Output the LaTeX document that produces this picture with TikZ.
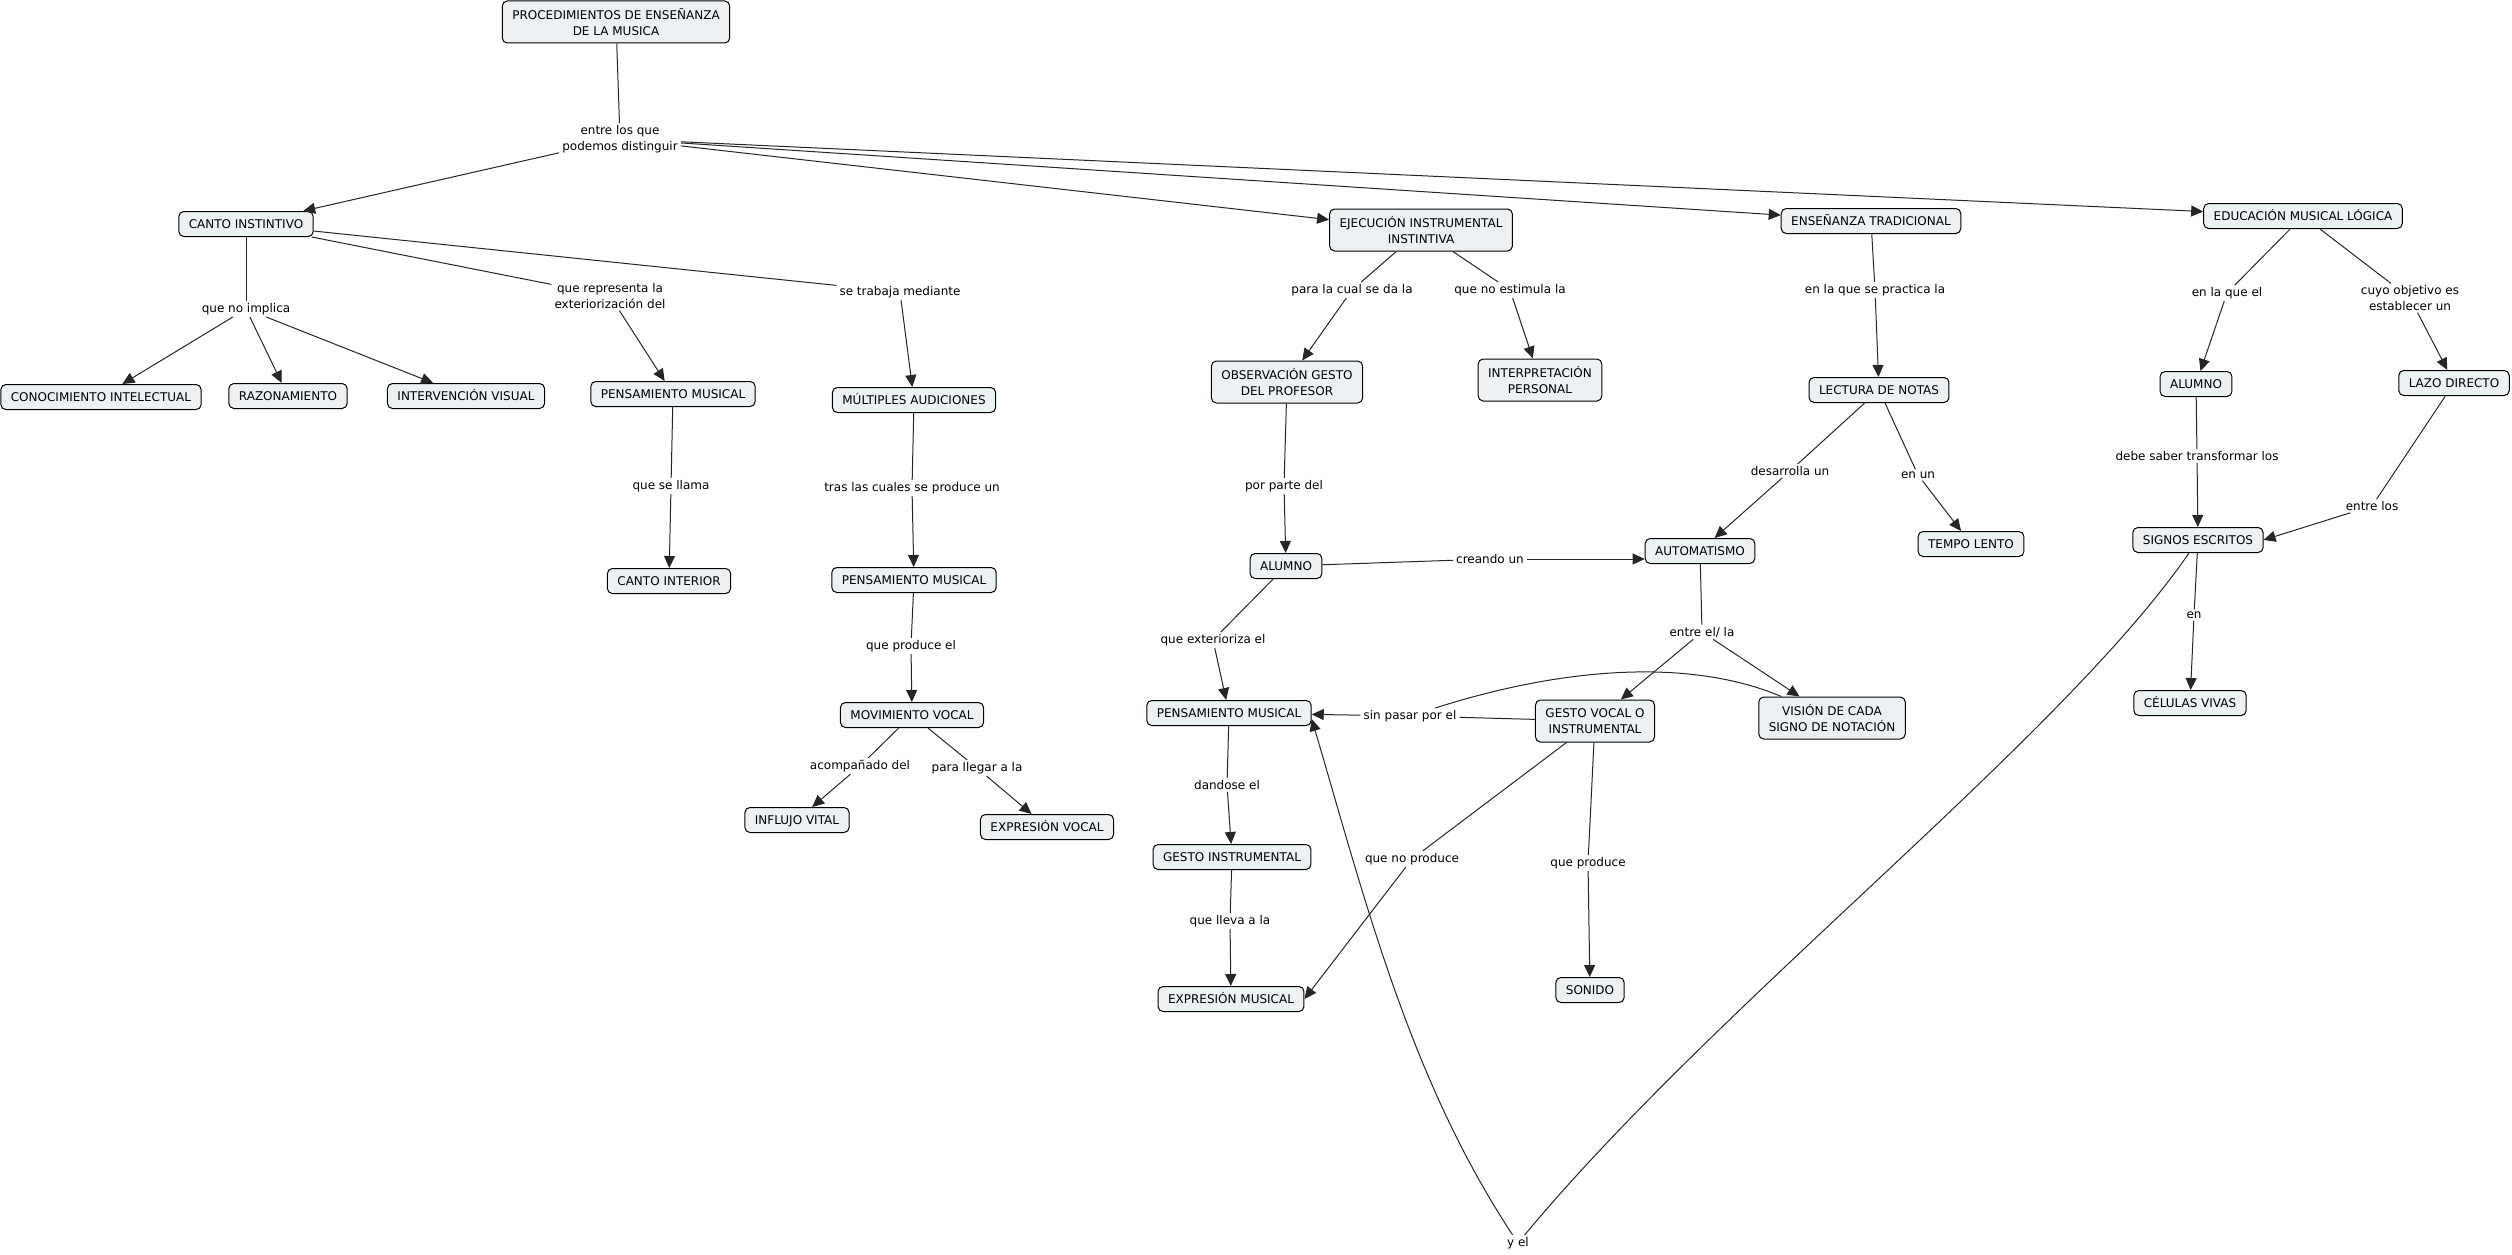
\documentclass[tikz,border=0pt]{standalone}
\usepackage{fontspec}
\setmainfont{DejaVu Sans}
\usetikzlibrary{arrows.meta}
\definecolor{nodefill}{RGB}{236,242,244}
\begin{document}
\begin{tikzpicture}[x=1pt,y=-1pt,
  every node/.style={font=\fontsize{12}{15.5}\selectfont},
  concept/.style={draw=black, line width=1pt, fill=nodefill, rounded corners=5pt, inner xsep=10pt, inner ysep=4pt, align=center},
  c1/.style={concept, minimum height=25pt, text height=8.8pt, text depth=0pt},
  c2/.style={concept, minimum height=42pt},
  lbl/.style={fill=white, inner xsep=3pt, inner ysep=2pt, align=center},
  conn/.style={draw=black!85, line width=1pt},
  arr/.style={conn, -{Triangle[length=12pt,width=11pt]}},
]
\useasboundingbox (0,0) rectangle (2512,1255);

% ---- concepts ----
\node[c2] (proc) at (616,22) {PROCEDIMIENTOS DE ENSEÑANZA\\DE LA MUSICA};
\node[c1] (canto) at (246,224) {CANTO INSTINTIVO};
\node[c1] (conoc) at (101,397) {CONOCIMIENTO INTELECTUAL};
\node[c1] (razon) at (288,396) {RAZONAMIENTO};
\node[c1] (interv) at (466,396) {INTERVENCIÓN VISUAL};
\node[c1] (pm1) at (673,394) {PENSAMIENTO MUSICAL};
\node[c1] (cint) at (669,581) {CANTO INTERIOR};
\node[c1] (mult) at (914,400) {MÚLTIPLES AUDICIONES};
\node[c1] (pm2) at (914,580) {PENSAMIENTO MUSICAL};
\node[c1] (mov) at (912,715) {MOVIMIENTO VOCAL};
\node[c1] (influ) at (797,820) {INFLUJO VITAL};
\node[c1] (exvoc) at (1047,827) {EXPRESIÓN VOCAL};
\node[c2] (ejec) at (1421,230) {EJECUCIÓN INSTRUMENTAL\\INSTINTIVA};
\node[c2] (obs) at (1287,382) {OBSERVACIÓN GESTO\\DEL PROFESOR};
\node[c2] (interp) at (1540,380) {INTERPRETACIÓN\\PERSONAL};
\node[c1] (alu1) at (1286,566) {ALUMNO};
\node[c1] (auto) at (1700,551) {AUTOMATISMO};
\node[c1] (pm3) at (1229,713) {PENSAMIENTO MUSICAL};
\node[c2] (gesto) at (1595,721) {GESTO VOCAL O\\INSTRUMENTAL};
\node[c2] (vision) at (1832,718) {VISIÓN DE CADA\\SIGNO DE NOTACIÓN};
\node[c1] (gins) at (1232,857) {GESTO INSTRUMENTAL};
\node[c1] (exmus) at (1231,999) {EXPRESIÓN MUSICAL};
\node[c1] (sonido) at (1590,990) {SONIDO};
\node[c1] (ensen) at (1871,221) {ENSEÑANZA TRADICIONAL};
\node[c1] (lect) at (1879,390) {LECTURA DE NOTAS};
\node[c1] (tempo) at (1971,544) {TEMPO LENTO};
\node[c1] (edu) at (2303,216) {EDUCACIÓN MUSICAL LÓGICA};
\node[c1] (alu2) at (2196,384) {ALUMNO};
\node[c1] (lazo) at (2454,383) {LAZO DIRECTO};
\node[c1] (signos) at (2198,540) {SIGNOS ESCRITOS};
\node[c1] (celulas) at (2190,703) {CÉLULAS VIVAS};

% ---- linking phrases ----
\node[lbl] (l0) at (620,139) {entre los que\\podemos distinguir};
\node[lbl] (lnoimp) at (246,309) {que no implica};
\node[lbl] (lrepr) at (610,296) {que representa la\\exteriorización del};
\node[lbl] (lllama) at (671,486) {que se llama};
\node[lbl] (ltrab) at (900,292) {se trabaja mediante};
\node[lbl] (ltras) at (912,488) {tras las cuales se produce un};
\node[lbl] (lprod) at (911,646) {que produce el};
\node[lbl] (lacomp) at (860,766) {acompañado del};
\node[lbl] (lpara) at (977,768) {para llegar a la};
\node[lbl] (lcual) at (1352,290) {para la cual se da la};
\node[lbl] (lestim) at (1510,290) {que no estimula la};
\node[lbl] (lparte) at (1284,486) {por parte del};
\node[lbl] (lcrea) at (1490,559) {creando un};
\node[lbl] (lexte) at (1213,640) {que exterioriza el};
\node[lbl] (lsin) at (1410,716) {sin pasar por el};
\node[lbl] (lentre) at (1702,632) {entre el/ la};
\node[lbl] (ldando) at (1227,785) {dandose el};
\node[lbl] (lnoprod) at (1412,859) {que no produce};
\node[lbl] (lqprod) at (1588,863) {que produce};
\node[lbl] (llleva) at (1230,921) {que lleva a la};
\node[lbl] (lyel) at (1518,1243) {y el};
\node[lbl] (lprac) at (1875,290) {en la que se practica la};
\node[lbl] (ldes) at (1790,471) {desarrolla un};
\node[lbl] (lenun) at (1918,475) {en un};
\node[lbl] (lquel) at (2227,293) {en la que el};
\node[lbl] (lcuyo) at (2410,298) {cuyo objetivo es\\establecer un};
\node[lbl] (ldebe) at (2197,456) {debe saber transformar los};
\node[lbl] (lentrelos) at (2372,506) {entre los};
\node[lbl] (len) at (2194,615) {en};

% ---- connectors ----
\draw[conn] (proc) -- (l0);
\draw[arr] (l0) -- (canto);
\draw[arr] (l0) -- (ejec);
\draw[arr] (l0) -- (ensen);
\draw[arr] (l0) -- (edu);

\draw[conn] (canto) -- (lnoimp);
\draw[arr] (lnoimp) -- (conoc);
\draw[arr] (lnoimp) -- (razon);
\draw[arr] (lnoimp) -- (interv);
\draw[conn] (canto) -- (lrepr);
\draw[arr] (lrepr) -- (pm1);
\draw[conn] (canto) -- (ltrab);
\draw[arr] (ltrab) -- (mult);
\draw[conn] (pm1) -- (lllama);
\draw[arr] (lllama) -- (cint);
\draw[conn] (mult) -- (ltras);
\draw[arr] (ltras) -- (pm2);
\draw[conn] (pm2) -- (lprod);
\draw[arr] (lprod) -- (mov);
\draw[conn] (mov) -- (lacomp);
\draw[arr] (lacomp) -- (influ);
\draw[conn] (mov) -- (lpara);
\draw[arr] (lpara) -- (exvoc);

\draw[conn] (ejec) -- (lcual);
\draw[arr] (lcual) -- (obs);
\draw[conn] (ejec) -- (lestim);
\draw[arr] (lestim) -- (interp);
\draw[conn] (obs) -- (lparte);
\draw[arr] (lparte) -- (alu1);
\draw[conn] (alu1) -- (lcrea);
\draw[arr] (lcrea) -- (lcrea -| auto.west);
\draw[conn] (alu1) -- (lexte);
\draw[arr] (lexte) -- (pm3);
\draw[conn] (auto) -- (lentre);
\draw[arr] (lentre) -- (gesto);
\draw[arr] (lentre) -- (vision);
\draw[conn] (gesto) -- (lsin);
\draw[conn] (vision) .. controls (1700,662) and (1580,662) .. (lsin);
\draw[arr] (lsin) -- (pm3);
\draw[conn] (pm3) -- (ldando);
\draw[arr] (ldando) -- (gins);
\draw[conn] (gins) -- (llleva);
\draw[arr] (llleva) -- (exmus);
\draw[conn] (gesto) -- (lnoprod);
\draw[arr] (lnoprod) -- (exmus.east);
\draw[conn] (gesto) -- (lqprod);
\draw[arr] (lqprod) -- (sonido);

\draw[conn] (ensen) -- (lprac);
\draw[arr] (lprac) -- (lect);
\draw[conn] (lect) -- (ldes);
\draw[arr] (ldes) -- (auto);
\draw[conn] (lect) -- (lenun);
\draw[arr] (lenun) -- (tempo);

\draw[conn] (edu) -- (lquel);
\draw[arr] (lquel) -- (alu2);
\draw[conn] (edu) -- (lcuyo);
\draw[arr] (lcuyo) -- (lazo);
\draw[conn] (alu2) -- (ldebe);
\draw[arr] (ldebe) -- (signos);
\draw[conn] (lazo) -- (lentrelos);
\draw[arr] (lentrelos) -- (signos.east);
\draw[conn] (signos) -- (len);
\draw[arr] (len) -- (celulas);

\draw[conn] (signos) .. controls (2060,740) and (1720,1000) .. (lyel);
\draw[arr] (lyel) .. controls (1410,1080) and (1365,900) .. ([yshift=-6pt]pm3.east);
\end{tikzpicture}
\end{document}
